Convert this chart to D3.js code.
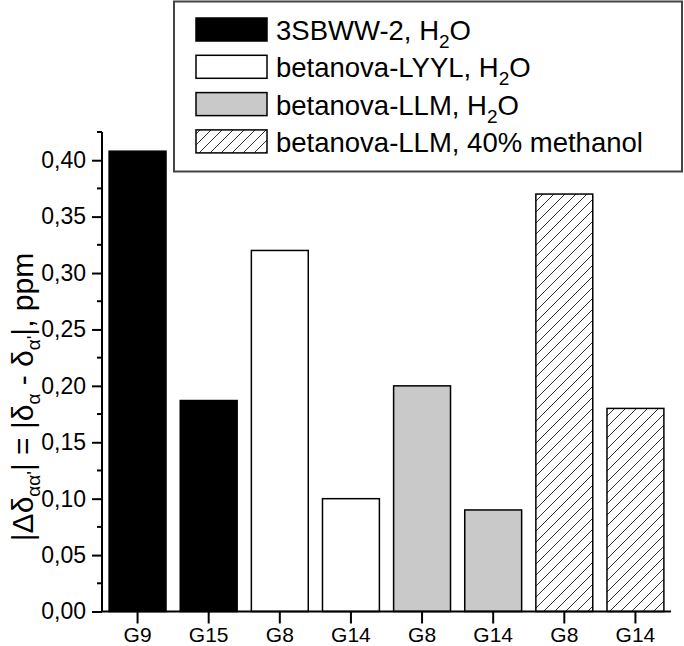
<!DOCTYPE html>
<html>
<head>
<meta charset="utf-8">
<script src="https://cdn.jsdelivr.net/npm/d3@7/dist/d3.min.js"></script>
<style>
  html, body { margin: 0; padding: 0; background: #fff; }
  svg { display: block; font-family: "Liberation Sans", Arial, sans-serif; }
</style>
</head>
<body>
<svg id="chart" width="684" height="646"></svg>
<script>
// ---- data ----
const categories = ["G9", "G15", "G8", "G14", "G8", "G14", "G8", "G14"];
const seriesNames = ["3SBWW-2, H2O", "betanova-LYYL, H2O", "betanova-LLM, H2O", "betanova-LLM, 40% methanol"];
const series3SBWW = [0.408, 0.187];
const seriesLYYL = [0.320, 0.100];
const seriesLLMwater = [0.200, 0.090];
const seriesLLMmethanol = [0.370, 0.180];
const yTicks = [0.00, 0.05, 0.10, 0.15, 0.20, 0.25, 0.30, 0.35, 0.40];

const seriesValues = [series3SBWW, seriesLYYL, seriesLLMwater, seriesLLMmethanol];
const bars = [];
seriesValues.forEach((vals, s) => vals.forEach(v => bars.push({ s, v })));
bars.forEach((b, i) => { b.i = i; b.cat = categories[i]; });

const svg = d3.select("#chart");
const defs = svg.append("defs");
const hatch = defs.append("pattern")
  .attr("id", "hatch").attr("patternUnits", "userSpaceOnUse")
  .attr("width", 11).attr("height", 11);
hatch.append("rect").attr("width", 11).attr("height", 11).attr("fill", "#fff");
hatch.append("path").attr("d", "M-2,2 l4,-4 M0,11 l11,-11 M9,13 l4,-4")
  .attr("stroke", "#333").attr("stroke-width", 1);

const fills = ["#000", "#fff", "#c9c9c9", "url(#hatch)"];

const x0 = 102, x1 = 671, yBase = 611.5, yTop = 132;
const x = d3.scaleBand().domain(d3.range(categories.length)).range([x0, x1])
  .paddingInner(0.2).paddingOuter(0.1);
const y = d3.scaleLinear().domain([0, 0.425]).range([yBase, yTop]);

// bars
svg.append("g").selectAll("rect").data(bars).join("rect")
  .attr("x", d => x(d.i))
  .attr("width", x.bandwidth())
  .attr("y", d => y(d.v))
  .attr("height", d => y(0) - y(d.v))
  .attr("fill", d => fills[d.s])
  .attr("stroke", "#000").attr("stroke-width", 1.5);

// y axis
const yAxis = d3.axisLeft(y).tickValues(yTicks).tickSize(10).tickPadding(6)
  .tickFormat(d => d3.format(".2f")(d).replace(".", ","));
const gy = svg.append("g").attr("transform", `translate(${x0},0)`).call(yAxis);
gy.select(".domain").attr("d", `M0,${yTop}V${yBase}`).attr("stroke-width", 2);
gy.selectAll(".tick line").attr("stroke-width", 2);
gy.selectAll("text").attr("font-size", 23).attr("font-family", "Liberation Sans, Arial, sans-serif").attr("fill", "#000");
// minor ticks
const minor = d3.range(0.025, 0.426, 0.05);
gy.selectAll(".minor").data(minor).join("line").attr("class", "minor")
  .attr("x1", -5).attr("x2", 0).attr("y1", d => y(d)).attr("y2", d => y(d))
  .attr("stroke", "#000").attr("stroke-width", 2);

// x axis
const xAxis = d3.axisBottom(x).tickSize(12).tickPadding(4).tickFormat(i => categories[i]);
const gx = svg.append("g").attr("transform", `translate(0,${yBase})`).call(xAxis);
gx.select(".domain").attr("d", `M${x0},0H${x1}`).attr("stroke-width", 2);
gx.selectAll(".tick line").attr("stroke-width", 2);
gx.selectAll("text").attr("font-size", 21).attr("font-family", "Liberation Sans, Arial, sans-serif").attr("fill", "#000");

// y title
const title = svg.append("text")
  .attr("transform", "translate(33,397) rotate(-90)")
  .attr("text-anchor", "middle").attr("font-size", 30).attr("fill", "#000");
const parts = [["|Δδ", 0], ["αα'", 1], ["| = |δ", 0], ["α", 1], [" - δ", 0], ["α'", 1], ["|, ppm", 0]];
let prevSub = false;
parts.forEach(([t, sub]) => {
  const ts = title.append("tspan").text(t);
  if (sub) { ts.attr("font-size", 19).attr("dy", 7); prevSub = true; }
  else if (prevSub) { ts.attr("dy", -7); prevSub = false; }
});

// legend
const lg = svg.append("g");
lg.append("rect").attr("x", 174).attr("y", 1.5).attr("width", 508).attr("height", 170)
  .attr("fill", "#fff").attr("stroke", "#444").attr("stroke-width", 2);
const legendLabels = [
  [["3SBWW-2, H", 0], ["2", 1], ["O", 0]],
  [["betanova-LYYL, H", 0], ["2", 1], ["O", 0]],
  [["betanova-LLM, H", 0], ["2", 1], ["O", 0]],
  [["betanova-LLM, 40% methanol", 0]]
];
seriesNames.forEach((name, k) => {
  const yy = 18 + k * 37.3;
  lg.append("rect").attr("x", 196).attr("y", yy).attr("width", 71).attr("height", 23)
    .attr("fill", fills[k]).attr("stroke", "#000").attr("stroke-width", 1.5);
  const t = lg.append("text").attr("x", 276).attr("y", yy + 22).attr("font-size", 27.5).attr("fill", "#000");
  let ps = false;
  legendLabels[k].forEach(([s, sub]) => {
    const ts = t.append("tspan").text(s);
    if (sub) { ts.attr("font-size", 19).attr("dy", 8); ps = true; }
    else if (ps) { ts.attr("dy", -8); ps = false; }
  });
});
</script>
</body>
</html>
